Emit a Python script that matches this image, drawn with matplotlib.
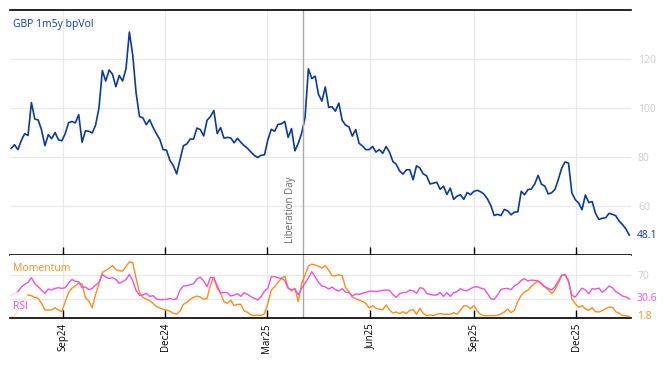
import matplotlib
matplotlib.use("Agg")
import matplotlib.pyplot as plt
import matplotlib.dates as mdates
import matplotlib.transforms as mtransforms
import pandas as pd

plt.rcParams["font.family"] = ["Open Sans", "DejaVu Sans"]

# sampled every 3 days
dates = pd.date_range("2024-07-17", periods=184, freq="3D")

bpvol = [
    83.5, 85.0, 83.0, 86.7, 89.5, 88.8, 102.2, 95.5, 95.1, 91.0,
    84.6, 89.1, 87.5, 90.0, 87.0, 86.6, 89.5, 94.0, 94.5, 93.9,
    97.3, 86.0, 90.7, 90.5, 89.8, 93.0, 100.0, 115.3, 111.0, 115.5,
    113.8, 108.7, 113.3, 111.0, 116.0, 131.0, 121.5, 106.0, 96.5, 96.0,
    93.2, 95.2, 92.1, 89.5, 87.2, 83.0, 82.8, 78.6, 76.5, 73.1,
    79.0, 84.6, 85.3, 87.3, 87.3, 91.8, 91.2, 88.6, 95.0, 96.5,
    99.0, 89.6, 92.0, 87.7, 88.0, 87.8, 85.8, 87.6, 86.0, 84.6,
    83.5, 82.0, 80.6, 79.8, 80.7, 80.9, 87.0, 91.3, 90.5, 93.3,
    93.5, 94.5, 88.0, 91.6, 82.5, 85.6, 89.7, 96.0, 116.0, 112.0,
    113.0, 105.5, 102.8, 108.6, 100.3, 100.5, 98.7, 102.0, 95.0, 93.0,
    92.3, 88.5, 91.2, 85.6, 84.5, 83.0, 83.0, 84.3, 82.0, 83.0,
    81.5, 84.3, 82.0, 78.2, 77.0, 74.3, 73.0, 74.8, 74.8, 70.7,
    76.4, 75.5, 73.1, 72.3, 69.0, 69.3, 69.7, 66.8, 68.1, 64.7,
    67.3, 62.7, 64.0, 64.6, 62.7, 65.5, 64.6, 66.0, 66.4, 65.8,
    64.8, 62.9, 60.2, 56.1, 56.6, 56.1, 58.6, 58.0, 56.4, 57.5,
    57.6, 66.0, 64.6, 66.7, 66.9, 69.0, 72.5, 68.9, 68.1, 64.9,
    65.4, 66.8, 70.9, 75.5, 78.0, 77.5, 65.3, 62.6, 61.2, 58.5,
    64.5, 61.4, 61.8, 57.0, 54.5, 55.0, 55.2, 57.0, 56.6, 56.0,
    53.8, 52.4, 50.6, 48.1,
]

rsi = [
    36.0, 39.8, 42.5, 50.2, 54.6, 57.9, 65.5, 56.2, 50.7, 45.3,
    39.8, 46.9, 45.3, 48.0, 49.1, 48.0, 49.1, 56.8, 62.8, 59.5,
    59.0, 49.6, 50.2, 45.8, 48.0, 53.5, 57.9, 71.0, 66.6, 64.4,
    65.5, 62.8, 56.2, 59.0, 62.2, 71.0, 60.6, 44.2, 36.5, 37.0,
    39.8, 34.8, 36.0, 30.5, 29.4, 29.4, 29.9, 31.6, 29.4, 31.0,
    45.3, 51.8, 52.4, 54.0, 55.7, 63.3, 66.6, 60.1, 50.7, 66.1,
    65.0, 52.4, 40.3, 41.4, 40.9, 35.4, 37.0, 39.2, 34.8, 40.9,
    38.1, 34.3, 31.6, 28.8, 34.3, 43.6, 48.0, 67.2, 67.2, 65.5,
    64.4, 61.1, 48.0, 45.8, 46.9, 37.6, 48.0, 56.8, 65.5, 75.4,
    67.2, 57.9, 52.0, 50.5, 46.9, 50.2, 45.8, 43.6, 47.5, 42.0,
    40.9, 35.4, 38.7, 38.1, 39.8, 41.4, 43.1, 43.6, 42.5, 43.6,
    44.7, 45.3, 44.7, 38.1, 33.2, 39.2, 40.9, 41.4, 45.3, 44.2,
    39.8, 49.1, 48.0, 39.8, 38.1, 37.0, 37.0, 41.4, 34.8, 40.9,
    34.8, 40.9, 42.5, 47.5, 44.7, 44.2, 47.5, 50.2, 50.7, 48.5,
    46.9, 39.8, 31.0, 29.9, 37.0, 46.4, 47.5, 48.0, 45.8, 52.4,
    55.1, 61.2, 63.9, 60.1, 61.7, 61.2, 60.1, 56.2, 50.7, 48.0,
    45.3, 50.7, 60.1, 69.9, 70.5, 59.0, 36.5, 33.8, 41.4, 48.5,
    45.3, 39.2, 47.5, 46.9, 48.5, 41.4, 45.8, 51.8, 49.1, 42.5,
    39.2, 35.4, 33.8, 30.6,
]

momentum = [
    1.0, 3.0, 9.6, 19.5, 31.6, 37.0, 36.0, 33.2, 31.6, 23.3,
    12.4, 12.4, 12.4, 16.2, 12.4, 9.6, 26.0, 40.9, 48.5, 51.8,
    56.8, 55.0, 32.7, 27.2, 16.2, 38.1, 56.2, 74.3, 77.6, 80.9,
    85.8, 78.7, 77.0, 76.5, 84.2, 91.8, 90.2, 64.4, 40.9, 33.2,
    30.5, 27.7, 23.3, 17.9, 15.7, 13.5, 12.4, 10.2, 6.9, 5.3,
    10.7, 21.7, 25.0, 29.9, 33.2, 35.4, 33.8, 29.9, 31.6, 53.5,
    66.6, 48.0, 39.8, 26.1, 23.3, 28.8, 19.5, 21.7, 21.7, 10.7,
    8.5, 4.2, 3.1, 4.2, 3.1, 6.4, 23.3, 45.3, 50.7, 57.9,
    64.4, 68.3, 49.1, 43.6, 48.0, 26.1, 56.2, 69.9, 84.7, 88.0,
    86.4, 84.7, 81.5, 85.5, 78.1, 68.8, 68.8, 70.5, 68.8, 49.6,
    42.5, 33.8, 31.0, 28.8, 26.6, 23.3, 15.7, 19.5, 15.1, 13.5,
    12.9, 20.6, 12.4, 7.4, 9.1, 6.4, 9.6, 6.4, 11.8, 12.9,
    5.3, 15.1, 6.9, 3.1, 4.2, 3.1, 5.3, 6.4, 5.3, 5.3,
    5.3, 8.0, 5.3, 11.8, 19.5, 19.0, 14.6, 19.5, 10.7, 4.7,
    3.1, 3.1, 3.1, 3.1, 3.6, 5.8, 9.1, 14.0, 8.0, 11.8,
    27.2, 36.5, 42.0, 45.3, 51.3, 56.2, 60.1, 54.6, 50.2, 45.8,
    39.2, 45.8, 56.8, 69.4, 71.0, 61.7, 30.5, 22.8, 16.8, 19.5,
    14.0, 11.8, 16.2, 9.6, 9.1, 11.3, 14.6, 17.3, 16.8, 9.6,
    6.9, 3.1, 3.1, 1.8,
]

event_date = pd.Timestamp("2025-04-02")
event_label = "Liberation Day"

BLUE = "#0b3a9e"
ORANGE = "#ff8c1a"
PINK = "#f24fd6"
GRID = "#e8e8e8"
LIGHT = "#cccccc"

fig = plt.figure(figsize=(6.68, 3.66), dpi=100)
ax = fig.add_axes([0.015, 0.3033, 0.9296, 0.6694])
ax2 = fig.add_axes([0.015, 0.1325, 0.9296, 0.1708], sharex=ax)

# top panel
ax.plot(dates, bpvol, color=BLUE, lw=1.2)
ax.set_ylim(40, 140)
ax.set_xlim(dates[0] - pd.Timedelta(days=1), dates[-1] + pd.Timedelta(days=1.5))
ax.set_yticks([60, 80, 100, 120])
ax.yaxis.tick_right()
ax.tick_params(axis="y", length=0, labelcolor=LIGHT, labelsize=7.5, pad=5)
ax.tick_params(axis="x", direction="in", length=6, width=1, labelbottom=False)
ax.grid(True, color=GRID, lw=0.8)
for s in ["left", "right"]:
    ax.spines[s].set_visible(False)
for s in ["top", "bottom"]:
    ax.spines[s].set_linewidth(1.2)
ax.text(0.005, 0.94, "GBP 1m5y bpVol", transform=ax.transAxes, color=BLUE,
        fontsize=7.5, ha="left", va="center")

trans = mtransforms.blended_transform_factory(ax.transAxes, ax.transData)
ax.text(1.009, bpvol[-1], f"{bpvol[-1]:.1f}", transform=trans, color=BLUE,
        fontsize=7.5, ha="left", va="center")

# event line
ax.axvline(event_date, color="#aaaaaa", lw=1)
ax2.axvline(event_date, color="#aaaaaa", lw=1)
ax.text(event_date - pd.Timedelta(days=11), 44.8, event_label, rotation=90,
        color="#666666", fontsize=7, ha="center", va="bottom")

# bottom panel
ax2.plot(dates[:6], momentum[:6], color=ORANGE, lw=1, alpha=0.25)
ax2.plot(dates[5:], momentum[5:], color=ORANGE, lw=1)
ax2.plot(dates[:3], rsi[:3], color=PINK, lw=1, alpha=0.25)
ax2.plot(dates[2:], rsi[2:], color=PINK, lw=1)
ax2.set_ylim(0, 103)
ax2.set_yticks([30, 70])
ax2.set_yticklabels(["", "70"])
ax2.yaxis.tick_right()
ax2.tick_params(axis="y", length=0, labelcolor=LIGHT, labelsize=7.5, pad=5)
ax2.grid(True, color=GRID, lw=0.8)
for s in ["left", "right", "top"]:
    ax2.spines[s].set_visible(False)
ax2.spines["bottom"].set_linewidth(1.2)

ax2.xaxis.set_major_locator(mdates.MonthLocator(bymonth=[3, 6, 9, 12]))
ax2.xaxis.set_major_formatter(mdates.DateFormatter("%b%y"))
ax2.tick_params(axis="x", direction="in", length=6, width=1, labelsize=7,
                labelrotation=90, pad=4)

trans2 = mtransforms.blended_transform_factory(ax2.transAxes, ax2.transData)
ax2.text(1.009, rsi[-1], f"{rsi[-1]:.1f}", transform=trans2, color=PINK,
         fontsize=7.5, ha="left", va="center")
ax2.text(1.009, momentum[-1], f"{momentum[-1]:.1f}", transform=trans2, color=ORANGE,
         fontsize=7.5, ha="left", va="center")
ax2.text(0.005, 0.78, "Momentum", transform=ax2.transAxes, color=ORANGE,
         fontsize=7.5, ha="left", va="center")
ax2.text(0.005, 0.18, "RSI", transform=ax2.transAxes, color=PINK,
         fontsize=7.5, ha="left", va="center")

fig.savefig("out.png", dpi=100)
